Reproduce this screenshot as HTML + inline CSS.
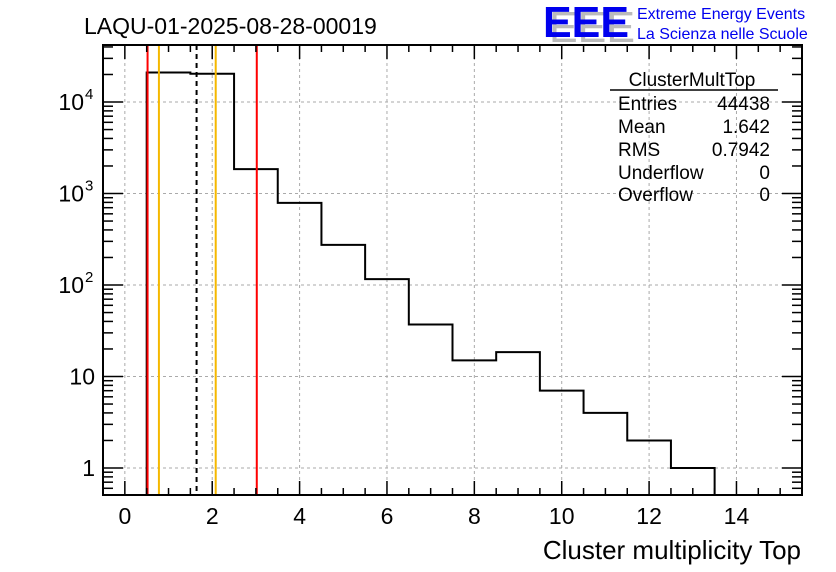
<!DOCTYPE html>
<html><head><meta charset="utf-8"><style>
body{margin:0;background:#fff;}
svg{display:block;font-family:"Liberation Sans",sans-serif;}
</style></head><body>
<svg id="c" width="836" height="572"></svg>
<script>
const binCenters=[1,2,3,4,5,6,7,8,9,10,11,12,13];
const binCounts=[21000,20400,1850,790,275,116,37,15,18.5,7,4,2,1];
const xTicks=[0,2,4,6,8,10,12,14];
const yTicks=[1,10,100,1000,10000];
const yTickLabels=["1","10","10^2","10^3","10^4"];
const redLines=[0.52,3.02];
const orangeLines=[0.78,2.08];
const meanLine=[1.642];

const L=103,R=802,T=45,B=495,X0=-0.5,X1=15.5,Y0=Math.log10(0.507),Y1=Math.log10(42000);
const sx=v=>L+(v-X0)/(X1-X0)*(R-L);
const sy=v=>B-(Math.log10(v)-Y0)/(Y1-Y0)*(B-T);
const svg=document.getElementById('c');const NS='http://www.w3.org/2000/svg';
function mk(t,a,p){const e=document.createElementNS(NS,t);for(const k in a)e.setAttribute(k,a[k]);(p||svg).appendChild(e);return e;}
const grid=mk('g',{});


xTicks.forEach(v=>mk('line',{x1:sx(v),x2:sx(v),y1:T,y2:B,stroke:'#aaa','stroke-dasharray':'3,3'},grid));
yTicks.forEach(v=>mk('line',{x1:L,x2:R,y1:sy(v),y2:sy(v),stroke:'#aaa','stroke-dasharray':'3,3'},grid));
let d='M'+sx(binCenters[0]-0.5)+','+B;
binCenters.forEach((c,i)=>{d+=' L'+sx(c-0.5)+','+sy(binCounts[i])+' L'+sx(c+0.5)+','+sy(binCounts[i]);});
d+=' L'+sx(binCenters[binCenters.length-1]+0.5)+','+B;
const h=mk('path',{d:d,fill:'none',stroke:'#000','stroke-width':2});


redLines.forEach(v=>{const e=mk('line',{x1:sx(v),x2:sx(v),y1:T,y2:B,stroke:'#f00','stroke-width':2});

});
orangeLines.forEach(v=>{const e=mk('line',{x1:sx(v),x2:sx(v),y1:T,y2:B,stroke:'#f5b800','stroke-width':2});

});
meanLine.forEach(v=>{const e=mk('line',{x1:sx(v),x2:sx(v),y1:T,y2:B,stroke:'#000','stroke-width':2,'stroke-dasharray':'5,4'});

});
const fr=mk('rect',{x:L,y:T,width:R-L,height:B-T,fill:'none',stroke:'#000','stroke-width':2});


for(let v=-0.5;v<=15.5;v+=0.5){const maj=Math.abs(v%2)<1e-9;const len=maj?14:7;
mk('line',{x1:sx(v),x2:sx(v),y1:B,y2:B-len,stroke:'#000','stroke-width':1.5});
mk('line',{x1:sx(v),x2:sx(v),y1:T,y2:T+len,stroke:'#000','stroke-width':1.5});}
xTicks.forEach(v=>{const t=mk('text',{x:sx(v),y:B+29,'text-anchor':'middle','font-size':23});t.textContent=v;

});
for(let e=-1;e<=4;e++)for(let m=1;m<=9;m++){const v=m*Math.pow(10,e);const y=sy(v);if(y<T||y>B)continue;const len=m==1?20:10;
mk('line',{x1:L,x2:L+len,y1:y,y2:y,stroke:'#000','stroke-width':1.5});
mk('line',{x1:R,x2:R-len,y1:y,y2:y,stroke:'#000','stroke-width':1.5});}
yTicks.forEach((v,i)=>{const lab=yTickLabels[i];const t=mk('text',{x:L-8,y:sy(v)+8,'text-anchor':'end','font-size':23});
if(lab.includes('^')){const [b,p]=lab.split('^');t.setAttribute('x',L-19);t.textContent=b;
const s=mk('text',{x:L-18,y:sy(v)-3,'font-size':15});s.textContent=p;}else t.textContent=lab;

});
</script>
<svg style="position:absolute;left:0;top:0" width="836" height="572" font-family="Liberation Sans, sans-serif">
<text x="84" y="34" font-size="23">LAQU-01-2025-08-28-00019</text>
<text x="801" y="559" font-size="26" text-anchor="end">Cluster multiplicity Top</text>
<g>
<text x="549" y="42" font-size="44" fill="#bbb" textLength="86" lengthAdjust="spacingAndGlyphs">EEE</text>
<text x="543" y="37" font-size="44" fill="#0000ee" font-weight="bold" textLength="86" lengthAdjust="spacingAndGlyphs">EEE</text>
<text x="637" y="19" font-size="16" fill="#0000ee">Extreme Energy Events</text>
<text x="637" y="39" font-size="16" fill="#0000ee">La Scienza nelle Scuole</text>
</g>
<g font-size="19">
<text x="692" y="86" text-anchor="middle">ClusterMultTop</text>
<line x1="610" x2="778" y1="90" y2="90" stroke="#000" stroke-width="1.5"/>
<text x="618" y="110">Entries</text><text x="770" y="110" text-anchor="end">44438</text>
<text x="618" y="133">Mean</text><text x="770" y="133" text-anchor="end">1.642</text>
<text x="618" y="156">RMS</text><text x="770" y="156" text-anchor="end">0.7942</text>
<text x="618" y="179">Underflow</text><text x="770" y="179" text-anchor="end">0</text>
<text x="618" y="201">Overflow</text><text x="770" y="201" text-anchor="end">0</text>
</g>
</svg>
</body></html>
